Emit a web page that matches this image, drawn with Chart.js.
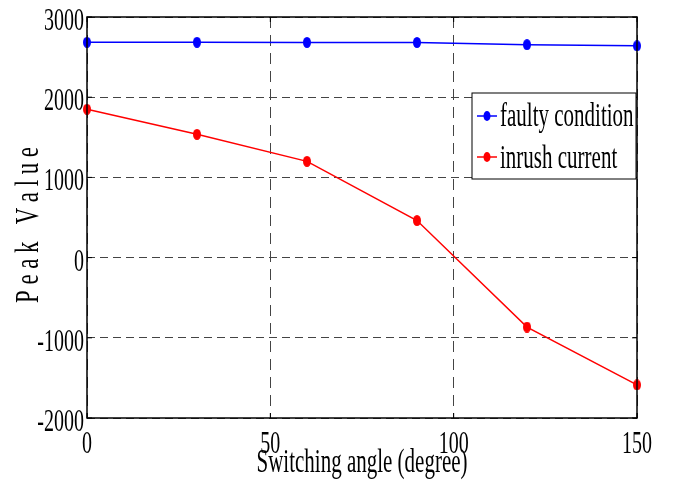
<!DOCTYPE html>
<html><head><meta charset="utf-8">
<script src="https://cdn.jsdelivr.net/npm/chart.js@4"></script>
<style>html,body{margin:0;padding:0;background:#fff}#w{width:683px;height:496px}</style>
</head><body><div id="w"><canvas id="c" width="683" height="496"></canvas></div>
<script>
const angles = [0, 30, 60, 90, 120, 150];
const faulty = [2685, 2685, 2683, 2682, 2655, 2640];
const inrush = [1850, 1537, 1200, 462, -866, -1587];
const xTicks = [0, 50, 100, 150];
const yTicks = [-2000, -1000, 0, 1000, 2000, 3000];
const seriesNames = ['faulty condition', 'inrush current'];
const xTitle = 'Switching angle (degree)';
const yTitle = 'P e a k   V a l u e';

const FONT = '"Liberation Serif", "Times New Roman", serif';
const SY = 1.6;

function dot(color) {
  const c = document.createElement('canvas');
  c.width = 8; c.height = 11;
  const g = c.getContext('2d');
  g.fillStyle = color;
  g.beginPath(); g.ellipse(4, 5.5, 4, 5.5, 0, 0, 2 * Math.PI); g.fill();
  return c;
}

function txt(ctx, s, x, y, align, size, sx) {
  ctx.save();
  ctx.font = size + 'px ' + FONT;
  ctx.textAlign = align; ctx.textBaseline = 'alphabetic';
  ctx.translate(x, y); ctx.scale(sx || 1, SY);
  ctx.fillText(s, 0, 0);
  ctx.restore();
}

const frame = {
  id: 'frame',
  afterDraw(chart) {
    const {ctx, chartArea: a, scales} = chart;
    ctx.save();
    ctx.strokeStyle = '#000'; ctx.lineWidth = 1.5; ctx.setLineDash([]);
    ctx.strokeRect(a.left, a.top, a.right - a.left, a.bottom - a.top);
    ctx.lineWidth = 1;
    yTicks.forEach(v => { const y = scales.y.getPixelForValue(v);
      ctx.beginPath(); ctx.moveTo(a.left, y); ctx.lineTo(a.left + 5, y);
      ctx.moveTo(a.right, y); ctx.lineTo(a.right - 5, y); ctx.stroke(); });
    xTicks.forEach(v => { const x = scales.x.getPixelForValue(v);
      ctx.beginPath(); ctx.moveTo(x, a.bottom); ctx.lineTo(x, a.bottom - 5);
      ctx.moveTo(x, a.top); ctx.lineTo(x, a.top + 5); ctx.stroke(); });
    ctx.fillStyle = '#000';
    // tick labels
    yTicks.forEach(v => txt(ctx, String(v), a.left - 3, scales.y.getPixelForValue(v) + 13, 'right', 20));
    xTicks.forEach(v => txt(ctx, String(v), scales.x.getPixelForValue(v), 453, 'center', 20));
    // axis titles
    txt(ctx, xTitle, (a.left + a.right) / 2, 472, 'center', 21);
    ctx.save(); ctx.translate(38, 225); ctx.rotate(-Math.PI / 2);
    ctx.font = '21px ' + FONT;
    const w = ctx.measureText(yTitle).width;
    txt(ctx, yTitle, 0, 0, 'center', 21, 156 / w);
    ctx.restore();
    // legend
    const lx = 472, ly = 93, lw = 164, lh = 86;
    ctx.fillStyle = '#fff'; ctx.fillRect(lx, ly, lw, lh);
    ctx.strokeStyle = '#000'; ctx.lineWidth = 1; ctx.strokeRect(lx, ly, lw, lh);
    const cols = ['#0000ff', '#ff0000'];
    const rows = [116, 157];
    const bases = [126, 168];
    rows.forEach((ry, i) => {
      ctx.strokeStyle = cols[i]; ctx.lineWidth = 1.5;
      ctx.beginPath(); ctx.moveTo(477, ry); ctx.lineTo(497, ry); ctx.stroke();
      ctx.fillStyle = cols[i];
      ctx.beginPath(); ctx.ellipse(487, ry, 3.5, 5, 0, 0, 2 * Math.PI); ctx.fill();
      ctx.fillStyle = '#000';
      txt(ctx, seriesNames[i], 500, bases[i], 'left', 21);
    });
    ctx.restore();
  }
};

new Chart(document.getElementById('c'), {
  type: 'line',
  data: {
    labels: angles,
    datasets: [
      { label: seriesNames[0], data: angles.map((a, i) => ({x: a, y: faulty[i]})),
        borderColor: '#0000ff', backgroundColor: '#0000ff', borderWidth: 1.5,
        pointStyle: dot('#0000ff'), tension: 0, clip: false },
      { label: seriesNames[1], data: angles.map((a, i) => ({x: a, y: inrush[i]})),
        borderColor: '#ff0000', backgroundColor: '#ff0000', borderWidth: 1.5,
        pointStyle: dot('#ff0000'), tension: 0, clip: false }
    ]
  },
  options: {
    responsive: false, animation: false,
    layout: { padding: { left: 0, right: 46, top: 17, bottom: 0 } },
    plugins: { legend: { display: false }, tooltip: { enabled: false } },
    scales: {
      x: {
        type: 'linear', min: 0, max: 150,
        afterBuildTicks: s => { s.ticks = xTicks.map(v => ({value: v})); },
        afterFit: s => { s.height = 78; },
        grid: { color: '#444', lineWidth: 1, drawTicks: false, tickLength: 0 },
        border: { display: false, dash: [11, 7] },
        ticks: { display: false }
      },
      y: {
        min: -2000, max: 3000,
        afterBuildTicks: s => { s.ticks = yTicks.map(v => ({value: v})); },
        afterFit: s => { s.width = 87; },
        grid: { color: '#444', lineWidth: 1, drawTicks: false, tickLength: 0 },
        border: { display: false, dash: [8, 5] },
        ticks: { display: false }
      }
    }
  },
  plugins: [frame]
});
</script></body></html>
